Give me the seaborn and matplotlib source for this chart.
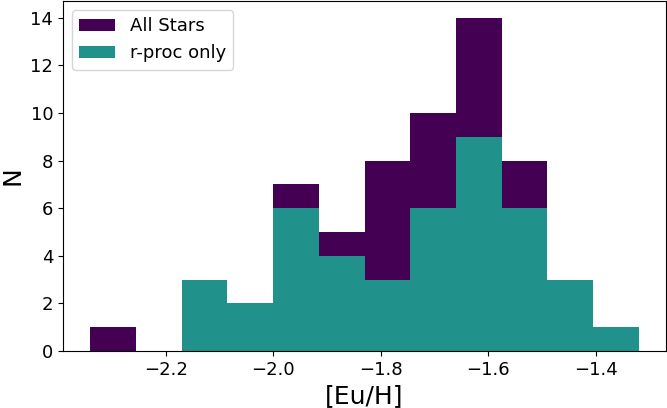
import numpy as np
import pandas as pd
import matplotlib
matplotlib.use("Agg")
import matplotlib.pyplot as plt
import seaborn as sns

# bin edges: 12 bins between -2.34 and -1.32
bin_lo = -2.34
bin_hi = -1.32
n_bins = 12

# counts per bin
all_stars = [1, 0, 3, 2, 7, 5, 8, 10, 14, 8, 3, 1]
rproc_only = [0, 0, 3, 2, 6, 4, 3, 6, 9, 6, 3, 1]

edges = np.linspace(bin_lo, bin_hi, n_bins + 1).tolist()
centers = [(a + b) / 2 for a, b in zip(edges[:-1], edges[1:])]
df = pd.DataFrame({"euh": centers, "all": all_stars, "rproc": rproc_only})

plt.rcParams['font.size'] = 13

fig = plt.figure(figsize=(6.67, 4.08), dpi=100)
ax = fig.add_axes([63 / 667, 1 - 351 / 408, 603 / 667, 350 / 408])

purple = "#440154"
teal = "#21918c"

sns.histplot(data=df, x="euh", weights="all", bins=edges, color=purple, alpha=1,
             linewidth=0, label="All Stars", ax=ax)
sns.histplot(data=df, x="euh", weights="rproc", bins=edges, color=teal, alpha=1,
             linewidth=0, label="r-proc only", ax=ax)

ax.set_xlabel("[Eu/H]", fontsize=18)
ax.set_ylabel("N", fontsize=18)
ax.set_yticks(range(0, 15, 2))
ax.margins(x=0.05)
ax.set_ylim(0, 14.7)
ax.legend(loc="upper left")

fig.savefig("out.png", dpi=100)
